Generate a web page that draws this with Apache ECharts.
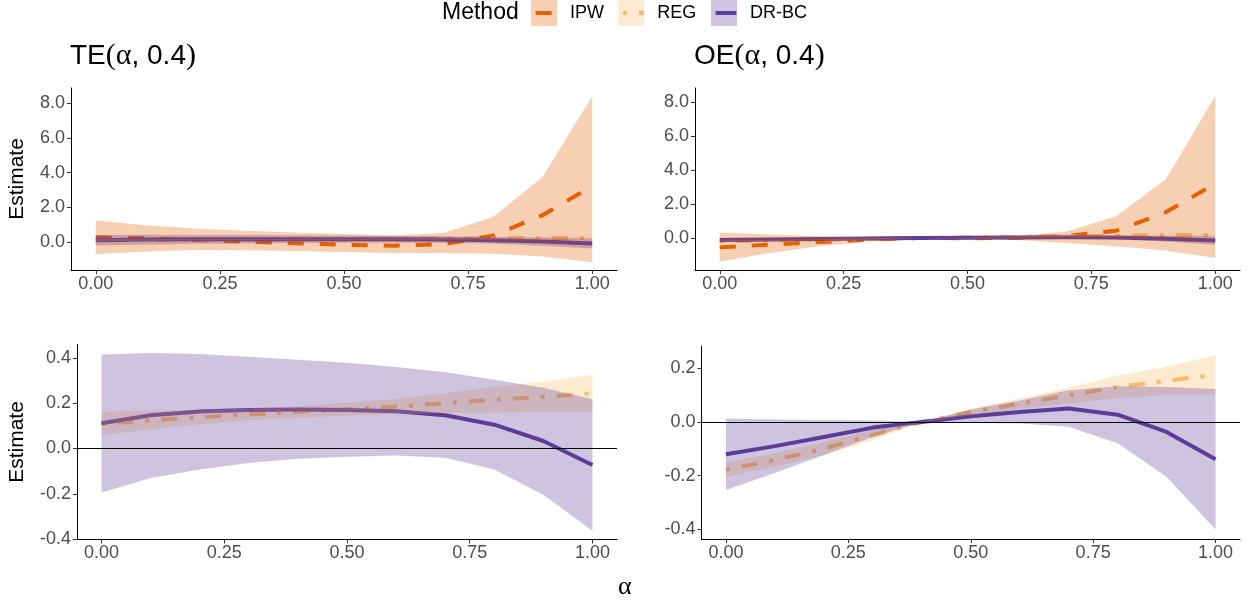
<!DOCTYPE html>
<html><head><meta charset="utf-8">
<script src="https://cdn.jsdelivr.net/npm/echarts@6/dist/echarts.min.js"></script>
<style>html,body{margin:0;padding:0;background:#fff}#c{width:1251px;height:603px}</style>
</head><body><div id="c"></div>
<script>
// ---------- data ----------
const alpha = [0, 0.1, 0.2, 0.3, 0.4, 0.5, 0.6, 0.7, 0.8, 0.9, 1.0];
const xTicks = [0, 0.25, 0.5, 0.75, 1];
const yTicksTop = [0, 2, 4, 6, 8];
const yTicksTE = [-0.4, -0.2, 0, 0.2, 0.4];
const yTicksOE = [-0.4, -0.2, 0, 0.2];
const methods = ['IPW', 'REG', 'DR-BC'];

// TE(alpha, 0.4)
const teIpwEst = [0.28, 0.22, 0.13, 0.03, -0.06, -0.15, -0.21, -0.12, 0.37, 1.55, 3.22];
const teIpwLo  = [-0.70, -0.53, -0.45, -0.47, -0.51, -0.57, -0.62, -0.63, -0.67, -0.82, -1.15];
const teIpwHi  = [1.25, 0.97, 0.78, 0.65, 0.55, 0.47, 0.40, 0.52, 1.45, 3.75, 8.38];
const teRegEst = [0.108, 0.124, 0.138, 0.150, 0.161, 0.173, 0.185, 0.200, 0.215, 0.228, 0.244];
const teRegLo  = [0.059, 0.084, 0.107, 0.124, 0.136, 0.144, 0.151, 0.156, 0.158, 0.160, 0.161];
const teRegHi  = [0.163, 0.166, 0.170, 0.176, 0.186, 0.202, 0.219, 0.244, 0.272, 0.296, 0.325];
const teDrEst  = [0.111, 0.147, 0.163, 0.170, 0.172, 0.170, 0.164, 0.147, 0.105, 0.033, -0.073];
const teDrLo   = [-0.194, -0.130, -0.093, -0.064, -0.046, -0.037, -0.031, -0.041, -0.093, -0.204, -0.363];
const teDrHi   = [0.415, 0.421, 0.417, 0.405, 0.392, 0.378, 0.360, 0.336, 0.303, 0.268, 0.217];

// OE(alpha, 0.4)
const oeIpwEst = [-0.55, -0.39, -0.24, -0.10, 0.0, -0.01, 0.0, 0.12, 0.43, 1.51, 3.20];
const oeIpwLo  = [-1.38, -0.88, -0.49, -0.20, 0.0, -0.05, -0.12, -0.29, -0.49, -0.73, -1.18];
const oeIpwHi  = [0.33, 0.20, 0.12, 0.05, 0.0, 0.04, 0.12, 0.39, 1.28, 3.44, 8.35];
const oeRegEst = [-0.177, -0.142, -0.099, -0.049, 0.0, 0.037, 0.068, 0.099, 0.130, 0.154, 0.175];
const oeRegLo  = [-0.204, -0.167, -0.123, -0.068, 0.0, 0.025, 0.049, 0.070, 0.088, 0.101, 0.103];
const oeRegHi  = [-0.150, -0.117, -0.075, -0.030, 0.0, 0.049, 0.087, 0.128, 0.172, 0.207, 0.248];
const oeDrEst  = [-0.120, -0.090, -0.056, -0.021, 0.0, 0.021, 0.037, 0.050, 0.027, -0.037, -0.139];
const oeDrLo   = [-0.253, -0.190, -0.123, -0.055, 0.0, -0.004, -0.006, -0.018, -0.079, -0.204, -0.401];
const oeDrHi   = [0.013, 0.009, 0.007, 0.005, 0.0, 0.046, 0.080, 0.118, 0.133, 0.130, 0.123];

// ---------- styling ----------
const SANS = '"Liberation Sans", Arial, Helvetica, sans-serif';
const SERIF = '"Liberation Serif", "DejaVu Serif", "Times New Roman", serif';
const colors = { 'IPW': '#E66101', 'REG': '#FDB863', 'DR-BC': '#5E3C99' };
const fills = { 'IPW': 'rgba(230,97,1,0.3)', 'REG': 'rgba(253,184,99,0.3)', 'DR-BC': 'rgba(94,60,153,0.3)' };
const dashes = { 'IPW': [16, 16], 'REG': [4, 12, 16, 12], 'DR-BC': 'solid' };

const panels = [
  { data: { 'IPW': [teIpwEst, teIpwLo, teIpwHi], 'REG': [teRegEst, teRegLo, teRegHi], 'DR-BC': [teDrEst, teDrLo, teDrHi] },
    hline: false, ticks: yTicksTop, min: -1.60, max: 8.86, grid: { left: 71, top: 88, width: 546, height: 182 }, name: 'Estimate', nameGap: 43 },
  { data: { 'IPW': [oeIpwEst, oeIpwLo, oeIpwHi], 'REG': [oeRegEst, oeRegLo, oeRegHi], 'DR-BC': [oeDrEst, oeDrLo, oeDrHi] },
    hline: false, ticks: yTicksTop, min: -1.88, max: 8.82, grid: { left: 695, top: 88, width: 545, height: 182 }, name: '', nameGap: 0 },
  { data: { 'REG': [teRegEst, teRegLo, teRegHi], 'DR-BC': [teDrEst, teDrLo, teDrHi] },
    hline: true, ticks: yTicksTE, min: -0.402, max: 0.459, grid: { left: 77, top: 344.5, width: 540, height: 195 }, name: 'Estimate', nameGap: 49 },
  { data: { 'REG': [oeRegEst, oeRegLo, oeRegHi], 'DR-BC': [oeDrEst, oeDrLo, oeDrHi] },
    hline: true, ticks: yTicksOE, min: -0.436, max: 0.283, grid: { left: 701.5, top: 346, width: 538.5, height: 193 }, name: '', nameGap: 0 }
];

function pts(ys) { return alpha.map((a, i) => [a, ys[i]]); }
function band(lo, hi) { return alpha.map((a, i) => [a, lo[i], hi[i]]); }

// one polygon per ribbon, built from all rows through the axis scales
function ribbonRenderer(fill) {
  return function (params, api) {
    if (params.dataIndexInside !== 0) return null;
    const n = params.dataInsideLength;
    const upper = [], lower = [];
    for (let i = 0; i < n; i++) {
      const x = api.value(0, i);
      lower.push(api.coord([x, api.value(1, i)]));
      upper.push(api.coord([x, api.value(2, i)]));
    }
    const points = upper.concat(lower.reverse());
    return { type: 'polygon', shape: { points: points }, style: { fill: fill, stroke: null } };
  };
}

const grids = [], xAxes = [], yAxes = [], series = [];
panels.forEach((p, idx) => {
  grids.push(Object.assign({ containLabel: false, outerBoundsMode: 'none' }, p.grid));
  xAxes.push({
    type: 'value', gridIndex: idx, min: -0.05, max: 1.05,
    axisLine: { show: true, onZero: false, lineStyle: { color: '#000', width: 1 } },
    axisTick: { show: true, length: 4, customValues: xTicks, lineStyle: { color: '#333', width: 1 } },
    axisLabel: { customValues: xTicks, margin: 5, fontSize: 18, color: '#4D4D4D', fontFamily: SANS, formatter: v => v.toFixed(2) },
    splitLine: { show: false }
  });
  yAxes.push({
    type: 'value', gridIndex: idx, min: p.min, max: p.max,
    name: p.name, nameLocation: 'middle', nameGap: p.nameGap, nameRotate: 90,
    nameTextStyle: { fontSize: 21, color: '#000', fontFamily: SANS },
    axisLine: { show: true, onZero: false, lineStyle: { color: '#000', width: 1 } },
    axisTick: { show: true, length: 4, customValues: p.ticks, lineStyle: { color: '#333', width: 1 } },
    axisLabel: { customValues: p.ticks, margin: 6, fontSize: 18, color: '#4D4D4D', fontFamily: SANS, formatter: v => v.toFixed(1) },
    splitLine: { show: false }
  });
  // lines first (underneath the ribbons)
  methods.forEach(m => {
    if (!p.data[m]) return;
    series.push({
      type: 'line', name: m, xAxisIndex: idx, yAxisIndex: idx, data: pts(p.data[m][0]),
      symbol: 'none', showSymbol: false, z: 2, color: colors[m], silent: true, animation: false,
      itemStyle: { color: colors[m] },
      lineStyle: { color: colors[m], width: 4, type: dashes[m], cap: 'butt', join: 'round' }
    });
  });
  // ribbons
  methods.forEach(m => {
    if (!p.data[m]) return;
    const [est, lo, hi] = p.data[m];
    const s = {
      type: 'custom', name: m + ' CI', xAxisIndex: idx, yAxisIndex: idx, coordinateSystem: 'cartesian2d',
      data: band(lo, hi), encode: { x: 0, y: [1, 2] }, z: 3, silent: true, animation: false,
      color: fills[m], itemStyle: { color: fills[m] },
      renderItem: ribbonRenderer(fills[m])
    };
    if (p.hline && m === 'DR-BC') {
      s.markLine = {
        silent: true, symbol: ['none', 'none'], animation: false, z: 6,
        label: { show: false },
        lineStyle: { color: '#000', width: 1.2, type: 'solid' },
        data: [{ yAxis: 0 }]
      };
    }
    series.push(s);
  });
});

// legends: filled key boxes with text, plus line keys on top
const legendX = { 'IPW': 531, 'REG': 618.3, 'DR-BC': 711 };
const legends = [];
methods.forEach(m => {
  legends.push({
    left: legendX[m], top: 0, padding: 0, itemWidth: 26, itemHeight: 26, selectedMode: false,
    data: [{ name: m + ' CI', icon: 'rect', itemStyle: { color: fills[m], borderWidth: 0 } }],
    formatter: () => m,
    textStyle: { fontSize: 18, color: '#000', fontFamily: SANS, padding: [0, 0, 0, 8] }
  });
  legends.push({
    left: legendX[m] + 2.6, top: 0, padding: 0, itemWidth: 20.8, itemHeight: 26, selectedMode: false,
    data: [{ name: m }],
    formatter: () => '',
    itemStyle: { opacity: 0 },
    lineStyle: { width: 4, type: dashes[m], color: colors[m], cap: 'butt', opacity: 1 }
  });
});

const titleRich = {
  s: { fontSize: 28, fontFamily: SANS, color: '#000', fontWeight: 'normal' },
  p: { fontSize: 30, fontFamily: SERIF, color: '#000', fontWeight: 'normal' },
  g: { fontSize: 30, fontFamily: SERIF, color: '#000', fontWeight: 'normal' }
};

const option = {
  animation: false,
  backgroundColor: '#fff',
  title: [
    { text: 'Method', left: 442, top: 1, padding: 0, textStyle: { fontSize: 23, fontWeight: 'normal', color: '#000', fontFamily: SANS } },
    { text: '{s|TE}{p|(}{g|α}{s|, 0.4}{p|)}', left: 70, top: 41, padding: 0, textStyle: { fontWeight: 'normal', rich: titleRich } },
    { text: '{s|OE}{p|(}{g|α}{s|, 0.4}{p|)}', left: 694, top: 41, padding: 0, textStyle: { fontWeight: 'normal', rich: titleRich } },
    { text: 'α', left: 618, top: 574, padding: 0, textStyle: { fontSize: 26, fontWeight: 'normal', color: '#000', fontFamily: SERIF } }
  ],
  legend: legends,
  grid: grids,
  xAxis: xAxes,
  yAxis: yAxes,
  series: series
};

const chart = echarts.init(document.getElementById('c'), null, { renderer: 'canvas' });
chart.setOption(option);
</script>
</body></html>
